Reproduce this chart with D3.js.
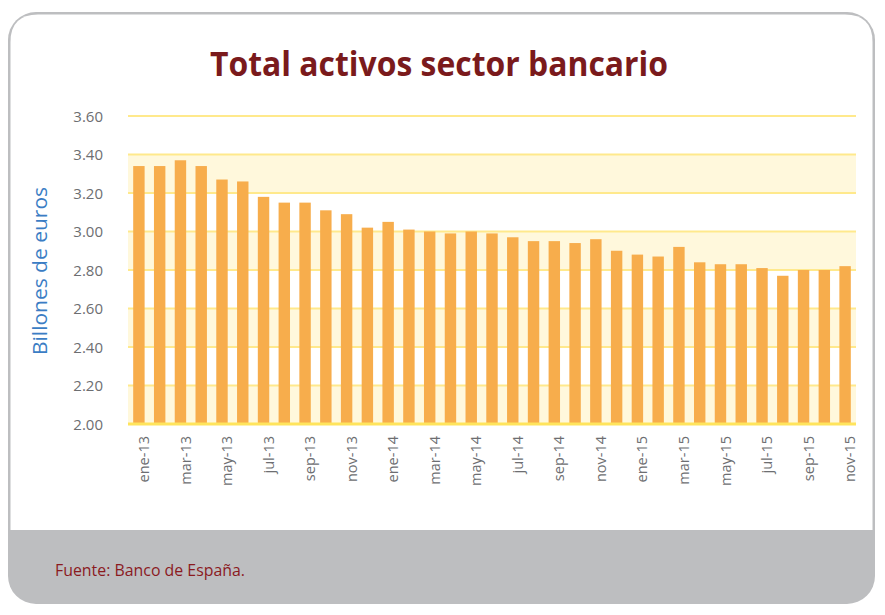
<!DOCTYPE html>
<html>
<head>
<meta charset="utf-8">
<script src="https://cdn.jsdelivr.net/npm/d3@7.9.0/dist/d3.min.js"></script>
<style>
  body { margin: 0; background: #fff; }
  svg { display: block; }
</style>
</head>
<body>
<script>
// ** Data **
const months = [
  "ene-13","feb-13","mar-13","abr-13","may-13","jun-13","jul-13","ago-13","sep-13","oct-13","nov-13","dic-13",
  "ene-14","feb-14","mar-14","abr-14","may-14","jun-14","jul-14","ago-14","sep-14","oct-14","nov-14","dic-14",
  "ene-15","feb-15","mar-15","abr-15","may-15","jun-15","jul-15","ago-15","sep-15","oct-15","nov-15"
];
const activos = [
  3.34, 3.34, 3.37, 3.34, 3.27, 3.26, 3.18, 3.15, 3.15, 3.11, 3.09, 3.02,
  3.05, 3.01, 3.00, 2.99, 3.00, 2.99, 2.97, 2.95, 2.95, 2.94, 2.96, 2.90,
  2.88, 2.87, 2.92, 2.84, 2.83, 2.83, 2.81, 2.77, 2.80, 2.80, 2.82
];
const yTicks = [2.00, 2.20, 2.40, 2.60, 2.80, 3.00, 3.20, 3.40, 3.60];
const xTickLabels = months.filter((m, i) => i % 2 === 0);

const width = 885, height = 615;
const plot = { left: 128, right: 856, top: 116, bottom: 424 };

const svg = d3.select("body").append("svg")
    .attr("width", width)
    .attr("height", height);

// ** Frame **
svg.append("rect")
    .attr("x", 8).attr("y", 12)
    .attr("width", 867).attr("height", 592)
    .attr("rx", 28)
    .attr("fill", "#bdbec0");
svg.append("path")
    .attr("d", "M10.5,530 V42 Q10.5,14.5 38,14.5 H845 Q872.5,14.5 872.5,42 V530 Z")
    .attr("fill", "#fff");

// ** Scales **
const x = d3.scaleBand()
    .domain(months)
    .range([plot.left, plot.right])
    .paddingInner(0.45)
    .paddingOuter(0.25);

const y = d3.scaleLinear()
    .domain([2, 3.6])
    .range([plot.bottom, plot.top]);

// ** Alternating bands **
const bands = yTicks.slice(0, -1).filter((t, i) => i % 2 === 0);
svg.append("g").selectAll("rect")
    .data(bands)
    .enter().append("rect")
    .attr("x", plot.left)
    .attr("width", plot.right - plot.left)
    .attr("y", d => y(d + 0.2))
    .attr("height", d => y(d) - y(d + 0.2))
    .attr("fill", "#fff8dc");

// ** Gridlines **
svg.append("g").selectAll("line")
    .data(yTicks.slice(1))
    .enter().append("line")
    .attr("x1", plot.left).attr("x2", plot.right)
    .attr("y1", d => y(d)).attr("y2", d => y(d))
    .attr("stroke", "#ffe98c")
    .attr("stroke-width", 2);

// ** Bars **
svg.append("g").selectAll("rect")
    .data(activos)
    .enter().append("rect")
    .attr("x", (d, i) => x(months[i]))
    .attr("width", x.bandwidth())
    .attr("y", d => y(d))
    .attr("height", d => y(2) - y(d))
    .attr("fill", "#f7ad4c");

// ** Baseline **
svg.append("line")
    .attr("x1", plot.left).attr("x2", plot.right)
    .attr("y1", y(2)).attr("y2", y(2))
    .attr("stroke", "#ffe45c")
    .attr("stroke-width", 3);

// ** Y axis labels **
const yAxis = svg.append("g")
    .attr("transform", `translate(${plot.left - 25},0)`)
    .call(d3.axisLeft(y).tickValues(yTicks).tickSize(0).tickFormat(d3.format(".2f")));
yAxis.select(".domain").remove();
yAxis.selectAll("text")
    .attr("x", 0)
    .attr("dy", "0.35em")
    .style("font-family", "'Open Sans', sans-serif")
    .style("font-size", "15px")
    .style("fill", "#6d6e71");

// ** X axis labels **
const xAxis = svg.append("g")
    .attr("transform", `translate(0,${plot.bottom})`)
    .call(d3.axisBottom(x).tickValues(xTickLabels).tickSize(0));
xAxis.select(".domain").remove();
xAxis.selectAll("text")
    .attr("transform", "rotate(-90)")
    .attr("x", -12)
    .attr("y", 0)
    .attr("dy", "0.35em")
    .attr("dx", 0)
    .style("text-anchor", "end")
    .style("font-family", "'Open Sans', sans-serif")
    .style("font-size", "14.5px")
    .style("fill", "#6d6e71");
xAxis.selectAll(".tick").attr("transform", d => `translate(${x(d) + x.bandwidth() / 2 + 5},0)`);

// ** Y axis title **
svg.append("text")
    .attr("transform", "translate(47,271) rotate(-90)")
    .attr("text-anchor", "middle")
    .attr("textLength", 168)
    .attr("lengthAdjust", "spacingAndGlyphs")
    .style("font-family", "'Open Sans', sans-serif")
    .style("font-size", "20px")
    .style("fill", "#3b7dc4")
    .text("Billones de euros");

// ** Title **
svg.append("text")
    .attr("x", 439)
    .attr("y", 76)
    .attr("text-anchor", "middle")
    .attr("textLength", 458)
    .attr("lengthAdjust", "spacingAndGlyphs")
    .style("font-family", "'Open Sans', sans-serif")
    .style("font-weight", "bold")
    .style("font-size", "34px")
    .style("fill", "#7a1a1c")
    .text("Total activos sector bancario");

// ** Source **
svg.append("text")
    .attr("x", 55)
    .attr("y", 576)
    .attr("textLength", 190)
    .attr("lengthAdjust", "spacingAndGlyphs")
    .style("font-family", "'Open Sans', sans-serif")
    .style("font-size", "16px")
    .style("fill", "#8b1a1f")
    .text("Fuente: Banco de España.");
</script>
</body>
</html>
